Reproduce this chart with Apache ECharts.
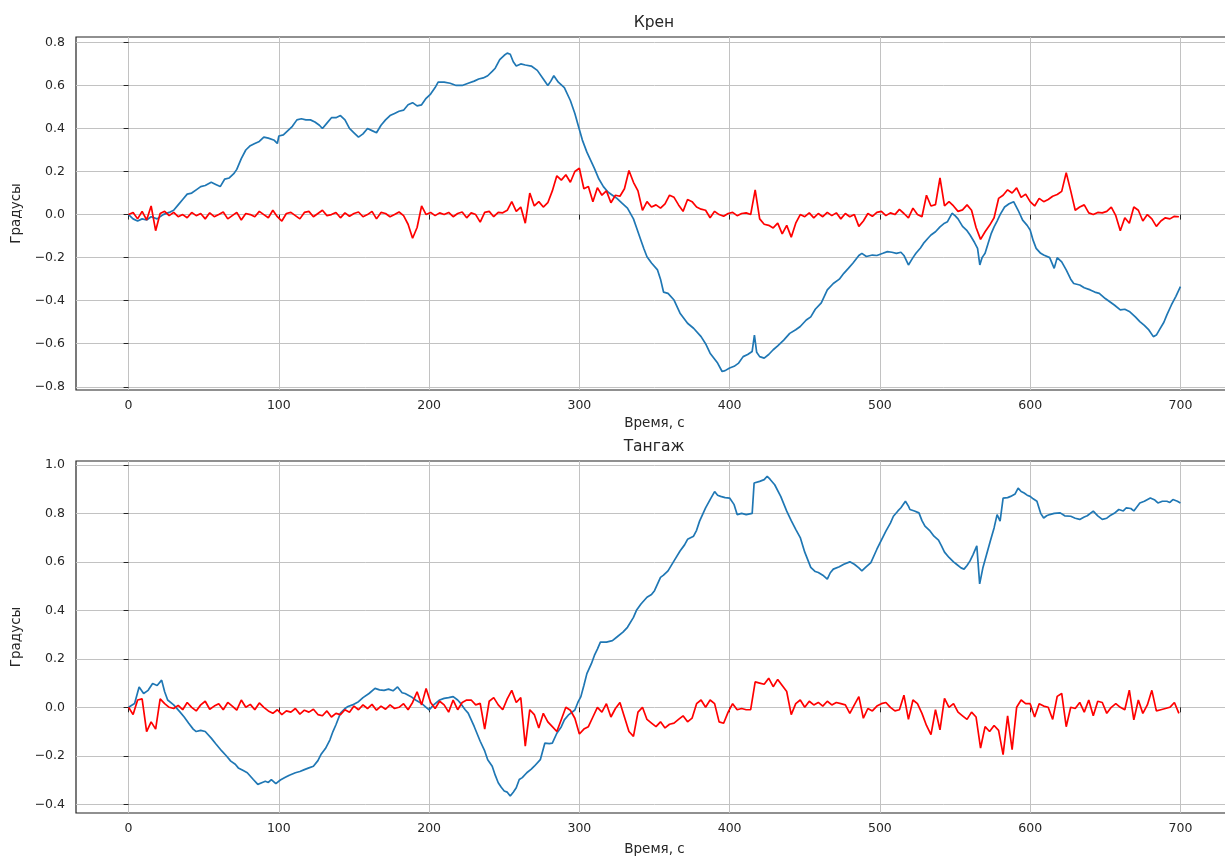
<!DOCTYPE html>
<html>
<head>
<meta charset="utf-8">
<script src="https://cdn.jsdelivr.net/npm/echarts@6/dist/echarts.min.js"></script>
<style>
html,body{margin:0;padding:0;background:#fff;overflow:hidden;}
#chart{width:1240px;height:857px;}
</style>
</head>
<body>
<div id="chart"></div>
<script>
// ---- Data ----
const xTicks = [0, 100, 200, 300, 400, 500, 600, 700];
const rollTicks = [-0.8, -0.6, -0.4, -0.2, 0, 0.2, 0.4, 0.6, 0.8];
const pitchTicks = [-0.4, -0.2, 0, 0.2, 0.4, 0.6, 0.8, 1.0];

// Крен, blue series: time (s) and value (deg)
const rollBlueT = [0,3,6,9,12,15,19,23,27,30, 33,36,39,42,45,48,51,55,58,61, 64,67,70,72,75,78,81,84,87,90,
  93,97,99,100,103,106,109,112,115,118, 121,124,127,129,132,135,138,141,144,147, 150,153,156,159,162,165,168,171,174,177,
  180,183,186,189,192,195,198,201,204,206, 210,214,218,222,226,230,233,236,239,242, 244,247,250,252,254,256,258,261,264,268,
  272,276,279,281,283,286,290,294,297,299, 302,305,308,310,313,316,319,322,325,328, 332,336,338,341,343,345,348,352,354,356,
  359,363,367,372,376,381,384,387,392,395, 397,400,403,406,409,412,415,416.5,418,420, 423,426,429,432,436,440,444,447,451,454,
  457,461,465,469,473,476,479,482,486,488, 491,495,498,502,505,508,511,514,516,519, 522,524,527,529,532,534,537,540,543,545,
  548,550,552,555,558,560,563,565,566.5,568, 570,572,574,576,578,580,583,586,589,592, 595,598,600,602,604,607,609,613,616,618,
  621,624,627,629,633,636,640,643,646,650, 653,656,660,663,666,670,673,676,679,682, 684,686,689,691,694,697,700];
const rollBlueV = [0,-0.02,-0.03,-0.02,-0.025,-0.01,-0.02,0,0.01,0.02, 0.045,0.07,0.095,0.1,0.115,0.13,0.135,0.15,0.14,0.13,
  0.165,0.17,0.19,0.21,0.26,0.3,0.32,0.33,0.34,0.36, 0.355,0.345,0.33,0.365,0.37,0.39,0.41,0.44,0.445,0.44,
  0.44,0.43,0.415,0.4,0.425,0.45,0.45,0.46,0.44,0.4, 0.38,0.36,0.375,0.4,0.39,0.38,0.415,0.44,0.46,0.47,
  0.48,0.485,0.51,0.52,0.505,0.51,0.54,0.56,0.59,0.615, 0.615,0.61,0.6,0.6,0.61,0.62,0.63,0.635,0.645,0.665,
  0.68,0.72,0.74,0.75,0.745,0.71,0.69,0.7,0.695,0.69, 0.67,0.63,0.6,0.62,0.645,0.615,0.59,0.53,0.47,0.42,
  0.346,0.29,0.245,0.215,0.165,0.13,0.105,0.09,0.075,0.055, 0.03,-0.02,-0.06,-0.12,-0.16,-0.196,-0.225,-0.257,-0.3,-0.36,
  -0.366,-0.397,-0.458,-0.505,-0.528,-0.567,-0.6,-0.644,-0.69,-0.729, -0.725,-0.713,-0.705,-0.69,-0.66,-0.65,-0.636,-0.56,-0.64,-0.66,
  -0.667,-0.65,-0.628,-0.61,-0.583,-0.552,-0.535,-0.52,-0.49,-0.475, -0.44,-0.41,-0.35,-0.32,-0.3,-0.273,-0.25,-0.226,-0.19,-0.18,
  -0.195,-0.188,-0.19,-0.18,-0.172,-0.175,-0.18,-0.175,-0.19,-0.234, -0.2,-0.18,-0.155,-0.134,-0.11,-0.095,-0.08,-0.057,-0.04,-0.033,
  0.006,-0.005,-0.02,-0.055,-0.075,-0.095,-0.13,-0.157,-0.234,-0.2, -0.18,-0.134,-0.09,-0.057,-0.03,0,0.035,0.05,0.06,0.02,
  -0.026,-0.05,-0.072,-0.12,-0.157,-0.18,-0.188,-0.2,-0.25,-0.2, -0.22,-0.257,-0.3,-0.32,-0.327,-0.34,-0.35,-0.36,-0.366,-0.39,
  -0.405,-0.42,-0.443,-0.44,-0.45,-0.475,-0.497,-0.515,-0.536,-0.567, -0.56,-0.536,-0.5,-0.466,-0.42,-0.38,-0.335];

// Red series are sampled every 3 s (t = 0, 3, 6, ... 699)
const redStep = 3;
const rollRedV = [0,0.01,-0.02,0.015,-0.025,0.04,-0.075,0.005,0.015,-0.005,
  0.01,-0.01,0,-0.015,0.01,-0.005,0.005,-0.02,0.008,-0.01,
  0,0.012,-0.02,-0.005,0.01,-0.025,0.005,0,-0.01,0.015,
  0,-0.015,0.02,-0.01,-0.03,0.005,0.01,-0.005,-0.02,0.01,
  0.015,-0.01,0.005,0.02,-0.005,0,0.01,-0.015,0.008,-0.008,
  0.005,0.012,-0.01,0,0.015,-0.02,0.01,0.005,-0.01,0,
  0.012,-0.005,-0.045,-0.11,-0.06,0.04,0,0.01,-0.005,0.008,
  0,0.01,-0.01,0.005,0.012,-0.015,0.008,0,-0.035,0.01,
  0.015,-0.01,0.01,0.008,0.02,0.06,0.015,0.035,-0.04,0.1,
  0.04,0.06,0.035,0.055,0.11,0.18,0.16,0.185,0.15,0.2,
  0.215,0.12,0.13,0.06,0.125,0.09,0.11,0.055,0.09,0.085,
  0.12,0.205,0.15,0.11,0.02,0.06,0.035,0.045,0.03,0.05,
  0.09,0.08,0.045,0.015,0.07,0.06,0.035,0.025,0.02,-0.015,
  0.015,0,-0.008,0.005,0.01,-0.005,0.005,0.008,0,0.115,
  -0.02,-0.045,-0.05,-0.062,-0.04,-0.09,-0.05,-0.105,-0.04,0,
  -0.01,0.008,-0.015,0.005,-0.01,0.01,-0.005,0.008,-0.02,0.005,
  -0.01,0,-0.055,-0.03,0.005,-0.008,0.01,0.015,-0.005,0.008,
  0,0.024,0.005,-0.015,0.03,0,-0.01,0.09,0.04,0.046,
  0.17,0.04,0.06,0.04,0.015,0.022,0.045,0.02,-0.06,-0.115,
  -0.08,-0.05,-0.015,0.075,0.09,0.115,0.1,0.124,0.08,0.095,
  0.06,0.04,0.075,0.06,0.07,0.085,0.093,0.108,0.195,0.11,
  0.02,0.035,0.045,0.008,0,0.01,0.008,0.015,0.035,-0.005,
  -0.075,-0.015,-0.04,0.035,0.02,-0.03,0,-0.02,-0.055,-0.03,
  -0.015,-0.02,-0.008,-0.01];

// Тангаж, blue series
const pitchBlueT = [0,4,7,10,13,16,19,22,24,26, 30,34,37,40,43,45,48,51,55,58, 62,65,68,71,73,76,79,83,86,89,
  91,93,95,98,101,104,107,111,114,117, 120,123,126,128,131,134,136,138,141,144, 146,149,153,156,160,164,167,170,173,176,
  179,182,184,188,191,195,198,200,203,207, 210,213,216,219,221,224,226,230,234,237, 239,242,244,246,248,250,252,254,256,258,
  260,262,265,268,270,274,277,280,282,285, 288,290,293,297,299,301,303,305,308,310, 312,314,318,322,325,329,332,336,338,341,
  345,348,350,354,356,359,363,367,370,372, 376,378,380,384,387,390,392,394,397,400, 403,405,408,411,415,416.3,420,423,425,427,
  430,434,438,441,444,447,450,454,457,459, 462,465,467,469,473,476,480,483,486,488, 491,494,498,501,504,507,509,512,514,517,
  519,520,523,526,528,530,533,536,539,541, 543,546,549,551,554,556,558,560,562,564.5, 566.4,568.6,571,573.5,576,578,580,582,585,587,
  590,592,594,596,598,600,602,604.5,607,609, 611,613,616,620,623,627,630,633,636,638, 642,645,648,651,653,656,659,662,664,667,
  669,673,676,680,683,685,688,691,693,695, 698,700];
const pitchBlueV = [0,0.016,0.084,0.057,0.07,0.098,0.09,0.112,0.064,0.03, 0.01,-0.018,-0.04,-0.066,-0.09,-0.1,-0.095,-0.1,-0.127,-0.15,
  -0.18,-0.2,-0.222,-0.235,-0.25,-0.26,-0.27,-0.298,-0.318,-0.31, -0.305,-0.31,-0.298,-0.315,-0.3,-0.29,-0.28,-0.27,-0.265,-0.257,
  -0.25,-0.243,-0.22,-0.195,-0.17,-0.134,-0.1,-0.072,-0.024,-0.005, 0.003,0.01,0.023,0.04,0.057,0.078,0.072,0.07,0.075,0.068,
  0.084,0.06,0.057,0.044,0.03,0.016,0,-0.011,0.01,0.03, 0.037,0.04,0.044,0.03,0.016,-0.01,-0.024,-0.079,-0.14,-0.18,
  -0.216,-0.243,-0.28,-0.311,-0.33,-0.345,-0.35,-0.366,-0.35,-0.332, -0.298,-0.29,-0.27,-0.255,-0.243,-0.216,-0.148,-0.15,-0.148,-0.107,
  -0.08,-0.052,-0.03,-0.011,0.02,0.044,0.09,0.139,0.18,0.214, 0.24,0.269,0.269,0.275,0.29,0.31,0.33,0.371,0.4,0.426,
  0.454,0.465,0.481,0.536,0.545,0.563,0.604,0.645,0.67,0.693, 0.706,0.73,0.768,0.823,0.857,0.89,0.875,0.87,0.865,0.863,
  0.836,0.795,0.8,0.795,0.8,0.925,0.932,0.939,0.953,0.94, 0.918,0.87,0.809,0.77,0.734,0.7,0.64,0.577,0.56,0.556,
  0.545,0.529,0.555,0.57,0.58,0.59,0.6,0.59,0.575,0.563, 0.58,0.597,0.652,0.69,0.727,0.76,0.788,0.81,0.823,0.85,
  0.83,0.816,0.81,0.802,0.77,0.747,0.73,0.706,0.69,0.666, 0.64,0.618,0.6,0.59,0.575,0.57,0.585,0.604,0.63,0.666,
  0.509,0.577,0.63,0.686,0.74,0.795,0.768,0.863,0.865,0.87, 0.88,0.904,0.89,0.884,0.875,0.87,0.86,0.85,0.8,0.781,
  0.79,0.795,0.8,0.802,0.79,0.788,0.78,0.775,0.785,0.79, 0.809,0.79,0.775,0.78,0.79,0.8,0.816,0.81,0.823,0.82,
  0.81,0.843,0.85,0.863,0.855,0.843,0.85,0.85,0.845,0.857, 0.85,0.843];

const pitchRedV = [0,-0.03,0.03,0.035,-0.1,-0.06,-0.09,0.035,0.015,0,
  -0.005,0.008,-0.01,0.02,0,-0.015,0.01,0.025,-0.008,0.005,
  0.015,-0.01,0.02,0.005,-0.012,0.03,0,0.012,-0.01,0.018,
  0,-0.015,-0.025,-0.01,-0.03,-0.015,-0.02,-0.005,-0.028,-0.012,
  -0.02,-0.008,-0.03,-0.035,-0.015,-0.04,-0.025,-0.03,-0.01,-0.02,
  0.005,-0.01,0.01,-0.005,0.012,-0.012,0.005,-0.008,0.01,-0.005,
  0,0.015,-0.01,0.02,0.064,0.01,0.078,0.02,-0.005,0.025,
  0.01,-0.02,0.03,-0.01,0.02,0.03,0.03,0.01,0.016,-0.09,
  0.025,0.04,0.01,-0.01,0.035,0.07,0.02,0.04,-0.16,-0.01,
  -0.03,-0.085,-0.025,-0.06,-0.08,-0.1,-0.05,0,-0.012,-0.045,
  -0.11,-0.09,-0.08,-0.04,0,-0.02,0.015,-0.04,-0.005,0.02,
  -0.04,-0.1,-0.12,-0.02,0,-0.05,-0.065,-0.08,-0.06,-0.085,
  -0.07,-0.065,-0.05,-0.035,-0.06,-0.045,0.015,0.03,0,0.03,
  0.015,-0.06,-0.066,-0.02,0.015,-0.01,-0.005,-0.01,-0.01,0.105,
  0.1,0.095,0.12,0.085,0.115,0.09,0.065,-0.03,0.015,0.03,
  0,0.025,0.01,0.02,0.005,0.025,0.01,0.02,0.015,0.01,
  -0.025,0.01,0.044,-0.045,-0.005,-0.015,0.005,0.015,0.02,0,
  -0.015,-0.01,0.05,-0.05,0.03,0.015,-0.025,-0.075,-0.113,-0.01,
  -0.093,0.037,0,0.015,-0.02,-0.035,-0.05,-0.02,-0.04,-0.168,
  -0.08,-0.1,-0.075,-0.095,-0.195,-0.035,-0.175,0,0.03,0.015,
  0.015,-0.04,0.015,0.005,0,-0.05,0.045,0.057,-0.08,0,
  -0.005,0.02,-0.02,0.03,-0.035,0.025,0.02,-0.025,0,0.015,
  0,-0.01,0.071,-0.052,0.03,-0.025,0.01,0.07,-0.015,-0.01,
  -0.005,0,0.02,-0.025];

// ---- Build ----
function zip(t, v) { const n = Math.min(t.length, v.length); const out = []; for (let i = 0; i < n; i++) out.push([t[i], v[i]]); return out; }
function stepped(v) { return v.map((y, i) => [i * redStep, y]); }
function fmtY(v) { const s = Math.abs(v).toFixed(1); return v < -1e-9 ? '\u2212' + s : s; }

const FONT = 'DejaVu Sans';
const TXT = '#262626';
const GRIDC = '#c2c2c2';

function xAxisCfg(gi, gap) {
  return {
    gridIndex: gi, type: 'value', min: -35, max: 735,
    axisLine: { show: false },
    axisTick: { show: true, customValues: xTicks, length: 5, lineStyle: { color: TXT, width: 1 } },
    axisLabel: { customValues: xTicks, color: TXT, fontSize: 12.5, fontFamily: FONT, margin: 9 },
    splitLine: { show: true, lineStyle: { color: GRIDC, width: 1 } },
    name: 'Время, с', nameLocation: 'middle', nameGap: gap,
    nameTextStyle: { color: TXT, fontSize: 13.5, fontFamily: FONT }
  };
}
function yAxisCfg(gi, min, max, ticks) {
  return {
    gridIndex: gi, type: 'value', min: min, max: max,
    axisLine: { show: false },
    axisTick: { show: true, customValues: ticks, length: 5, lineStyle: { color: TXT, width: 1 } },
    axisLabel: { customValues: ticks, color: TXT, fontSize: 12.5, fontFamily: FONT, margin: 11, formatter: fmtY },
    splitLine: { show: true, lineStyle: { color: GRIDC, width: 1 } },
    name: 'Градусы', nameLocation: 'middle', nameGap: 50, nameRotate: 90,
    nameTextStyle: { color: TXT, fontSize: 13.5, fontFamily: FONT }
  };
}
function lineSeries(xi, data, color, z) {
  return { type: 'line', xAxisIndex: xi, yAxisIndex: xi, data: data, showSymbol: false, symbol: 'none',
    lineStyle: { color: color, width: 1.7 }, itemStyle: { color: color }, z: z, silent: true };
}

const chart = echarts.init(document.getElementById('chart'), null, { renderer: 'canvas' });
chart.setOption({
  animation: false,
  backgroundColor: '#ffffff',
  textStyle: { fontFamily: FONT },
  grid: [
    { left: 76, top: 37, width: 1157, height: 353, show: true, borderColor: '#222', borderWidth: 1.2, backgroundColor: 'transparent' },
    { left: 76, top: 461, width: 1157, height: 352, show: true, borderColor: '#222', borderWidth: 1.2, backgroundColor: 'transparent' }
  ],
  xAxis: [xAxisCfg(0, 26), xAxisCfg(1, 29)],
  yAxis: [yAxisCfg(0, -0.815, 0.825, rollTicks), yAxisCfg(1, -0.436, 1.016, pitchTicks)],
  graphic: [
    { type: 'text', x: 654, y: 23, style: { text: 'Крен', fill: TXT, font: '15.5px "DejaVu Sans"', align: 'center', verticalAlign: 'middle' } },
    { type: 'text', x: 654, y: 447, style: { text: 'Тангаж', fill: TXT, font: '15.5px "DejaVu Sans"', align: 'center', verticalAlign: 'middle' } }
  ],
  series: [
    lineSeries(0, zip(rollBlueT, rollBlueV), '#1f77b4', 2),
    lineSeries(0, stepped(rollRedV), '#ff0000', 3),
    lineSeries(1, zip(pitchBlueT, pitchBlueV), '#1f77b4', 2),
    lineSeries(1, stepped(pitchRedV), '#ff0000', 3)
  ]
});
</script>
</body>
</html>
